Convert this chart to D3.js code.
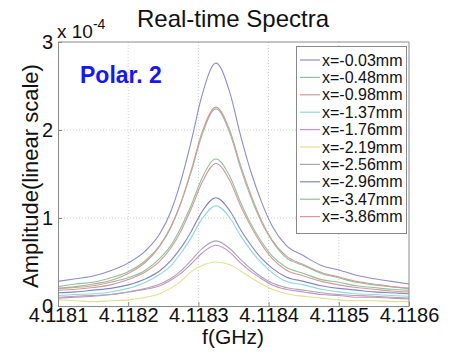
<!DOCTYPE html>
<html>
<head>
<meta charset="utf-8">
<script src="https://cdn.jsdelivr.net/npm/d3@7"></script>
<style>
  html, body { margin: 0; padding: 0; background: #fff; }
  svg { display: block; font-family: "Liberation Sans", Arial, sans-serif; }
</style>
</head>
<body>
<svg id="chart" width="450" height="357"></svg>
<script>
// ---- data (amplitude in units of 1e-4) ----
const freqs = [4.118100, 4.118125, 4.118150, 4.118175, 4.118200, 4.118225, 4.118245, 4.118260,
  4.118275, 4.118290, 4.118305, 4.118325, 4.118345, 4.118360, 4.118375, 4.118390, 4.118405,
  4.118425, 4.118450, 4.118475, 4.118500, 4.118525, 4.118550, 4.118575, 4.118600];
const seriesNames = ["x=-0.03mm", "x=-0.48mm", "x=-0.98mm", "x=-1.37mm", "x=-1.76mm",
  "x=-2.19mm", "x=-2.56mm", "x=-2.96mm", "x=-3.47mm", "x=-3.86mm"];
const s003 = [0.28, 0.31, 0.34, 0.40, 0.49, 0.63, 0.82, 1.06, 1.42, 1.88, 2.39, 2.76, 2.42, 1.94, 1.52, 1.18, 0.91, 0.69, 0.57, 0.46, 0.41, 0.35, 0.31, 0.28, 0.25];
const s048 = [0.22, 0.25, 0.27, 0.32, 0.39, 0.52, 0.69, 0.89, 1.17, 1.53, 1.94, 2.24, 1.96, 1.57, 1.23, 0.95, 0.74, 0.55, 0.46, 0.37, 0.32, 0.27, 0.24, 0.22, 0.20];
const s098 = [0.20, 0.22, 0.25, 0.29, 0.37, 0.50, 0.68, 0.88, 1.17, 1.55, 1.97, 2.26, 1.99, 1.60, 1.26, 0.97, 0.75, 0.57, 0.47, 0.38, 0.33, 0.28, 0.25, 0.22, 0.20];
const s137 = [0.12, 0.13, 0.14, 0.16, 0.20, 0.27, 0.36, 0.45, 0.60, 0.78, 0.99, 1.14, 1.00, 0.80, 0.63, 0.49, 0.38, 0.28, 0.24, 0.19, 0.16, 0.14, 0.13, 0.12, 0.11];
const s176 = [0.09, 0.10, 0.11, 0.13, 0.16, 0.19, 0.23, 0.29, 0.37, 0.48, 0.60, 0.69, 0.61, 0.49, 0.39, 0.31, 0.24, 0.19, 0.16, 0.13, 0.12, 0.10, 0.10, 0.09, 0.08];
const s219 = [0.07, 0.06, 0.05, 0.06, 0.07, 0.10, 0.14, 0.20, 0.28, 0.39, 0.46, 0.50, 0.47, 0.40, 0.32, 0.25, 0.19, 0.14, 0.11, 0.09, 0.07, 0.06, 0.06, 0.05, 0.05];
const s256 = [0.10, 0.11, 0.12, 0.13, 0.16, 0.20, 0.25, 0.31, 0.40, 0.52, 0.65, 0.74, 0.65, 0.53, 0.42, 0.33, 0.26, 0.21, 0.18, 0.15, 0.13, 0.12, 0.11, 0.10, 0.09];
const s296 = [0.15, 0.16, 0.18, 0.20, 0.24, 0.31, 0.40, 0.51, 0.66, 0.85, 1.07, 1.23, 1.08, 0.87, 0.69, 0.54, 0.43, 0.33, 0.28, 0.23, 0.20, 0.18, 0.16, 0.15, 0.14];
const s347 = [0.20, 0.21, 0.23, 0.27, 0.32, 0.41, 0.54, 0.68, 0.89, 1.15, 1.45, 1.67, 1.47, 1.18, 0.93, 0.73, 0.57, 0.44, 0.37, 0.30, 0.27, 0.23, 0.21, 0.19, 0.18];
const s386 = [0.18, 0.19, 0.21, 0.24, 0.30, 0.39, 0.51, 0.65, 0.85, 1.11, 1.40, 1.62, 1.42, 1.14, 0.90, 0.70, 0.54, 0.41, 0.34, 0.28, 0.24, 0.21, 0.19, 0.17, 0.16];
const seriesValues = [s003, s048, s098, s137, s176, s219, s256, s296, s347, s386];
const xTicks = [4.1181, 4.1182, 4.1183, 4.1184, 4.1185, 4.1186];
const xTickLabels = ["4.1181", "4.1182", "4.1183", "4.1184", "4.1185", "4.1186"];
const yTicks = [0, 1, 2, 3];
const yTickLabels = ["0", "1", "2", "3"];

// ---- styles ----
const colors = ["#8c8cd0", "#8cc49a", "#d89898", "#8cdada", "#c88ed0",
  "#e2e08c", "#a8a8ac", "#8484c8", "#8cc49a", "#d89898"];

const svg = d3.select("#chart");
const L = 58, R = 409, T = 42, B = 306;
const x = d3.scaleLinear().domain([4.1181, 4.1186]).range([L, R]);
const y = d3.scaleLinear().domain([0, 3]).range([B, T]);

// grid
const grid = svg.append("g");
grid.selectAll("line.gx").data(xTicks.slice(1, -1)).join("line")
  .attr("x1", d => x(d)).attr("x2", d => x(d)).attr("y1", T).attr("y2", B)
  .attr("stroke", "#cfcfcf").attr("stroke-width", 1).attr("stroke-dasharray", "1,2");
grid.selectAll("line.gy").data(yTicks.slice(1, -1)).join("line")
  .attr("x1", L).attr("x2", R).attr("y1", d => y(d)).attr("y2", d => y(d))
  .attr("stroke", "#cfcfcf").attr("stroke-width", 1).attr("stroke-dasharray", "1,2");

// lines
const line = d3.line().x((d, i) => x(freqs[i])).y(d => y(d)).curve(d3.curveMonotoneX);
svg.append("clipPath").attr("id", "clip").append("rect")
  .attr("x", L).attr("y", T).attr("width", R - L).attr("height", B - T);
svg.append("g").attr("clip-path", "url(#clip)").selectAll("path")
  .data(seriesValues).join("path")
  .attr("d", d => line(d)).attr("fill", "none")
  .attr("stroke", (d, i) => colors[i]).attr("stroke-width", 1.1);

// axes
const xAxis = d3.axisBottom(x).tickValues(xTicks).tickFormat((d, i) => xTickLabels[i]).tickSizeInner(-4).tickSizeOuter(0).tickPadding(2);
const gx = svg.append("g").attr("transform", `translate(0,${B})`).call(xAxis);
gx.select(".domain").attr("stroke", "#8a8a8a");
gx.selectAll(".tick line").attr("stroke", "#8a8a8a");
gx.selectAll("text").attr("font-size", 20).attr("fill", "#111").attr("dy", "0.71em");

const yAxis = d3.axisLeft(y).tickValues(yTicks).tickFormat((d, i) => yTickLabels[i]).tickSizeInner(-4).tickSizeOuter(0).tickPadding(5);
const gy = svg.append("g").attr("transform", `translate(${L},0)`).call(yAxis);
gy.select(".domain").attr("stroke", "#8a8a8a");
gy.selectAll(".tick line").attr("stroke", "#8a8a8a");
gy.selectAll("text").attr("font-size", 20).attr("fill", "#111");

// top/right border
svg.append("line").attr("x1", L).attr("x2", R).attr("y1", T).attr("y2", T).attr("stroke", "#8a8a8a");
svg.append("line").attr("x1", R).attr("x2", R).attr("y1", T).attr("y2", B).attr("stroke", "#8a8a8a");

// exponent
const ex = svg.append("text").attr("x", 57).attr("y", 38).attr("font-size", 19).attr("fill", "#111");
ex.append("tspan").text("x 10");
ex.append("tspan").attr("dy", -9).attr("font-size", 14).text("-4");

// titles
svg.append("text").attr("x", 233).attr("y", 27).attr("text-anchor", "middle")
  .attr("font-size", 24).attr("fill", "#111").text("Real-time Spectra");
svg.append("text").attr("x", 233).attr("y", 344).attr("text-anchor", "middle")
  .attr("font-size", 21).attr("fill", "#111").text("f(GHz)");
svg.append("text").attr("transform", "translate(38,176) rotate(-90)").attr("text-anchor", "middle")
  .attr("font-size", 22).attr("fill", "#111").text("Amplitude(linear scale)");

// annotation
svg.append("text").attr("x", 80).attr("y", 83).attr("font-size", 23).attr("font-weight", "bold")
  .attr("fill", "#1515ff").text("Polar. 2");

// legend
const lg = svg.append("g");
lg.append("rect").attr("x", 296.5).attr("y", 46.5).attr("width", 110).attr("height", 187)
  .attr("fill", "#fff").attr("stroke", "#8a8a8a");
const rows = lg.selectAll("g.row").data(seriesNames).join("g")
  .attr("transform", (d, i) => `translate(0,${60 + i * 17.4})`);
rows.append("line").attr("x1", 300).attr("x2", 320).attr("y1", 0).attr("y2", 0)
  .attr("stroke", (d, i) => colors[i]).attr("stroke-width", 1.2);
rows.append("text").attr("x", 322).attr("y", 0).attr("dy", "0.35em")
  .attr("font-size", 16).attr("fill", "#111").text(d => d);
</script>
</body>
</html>
